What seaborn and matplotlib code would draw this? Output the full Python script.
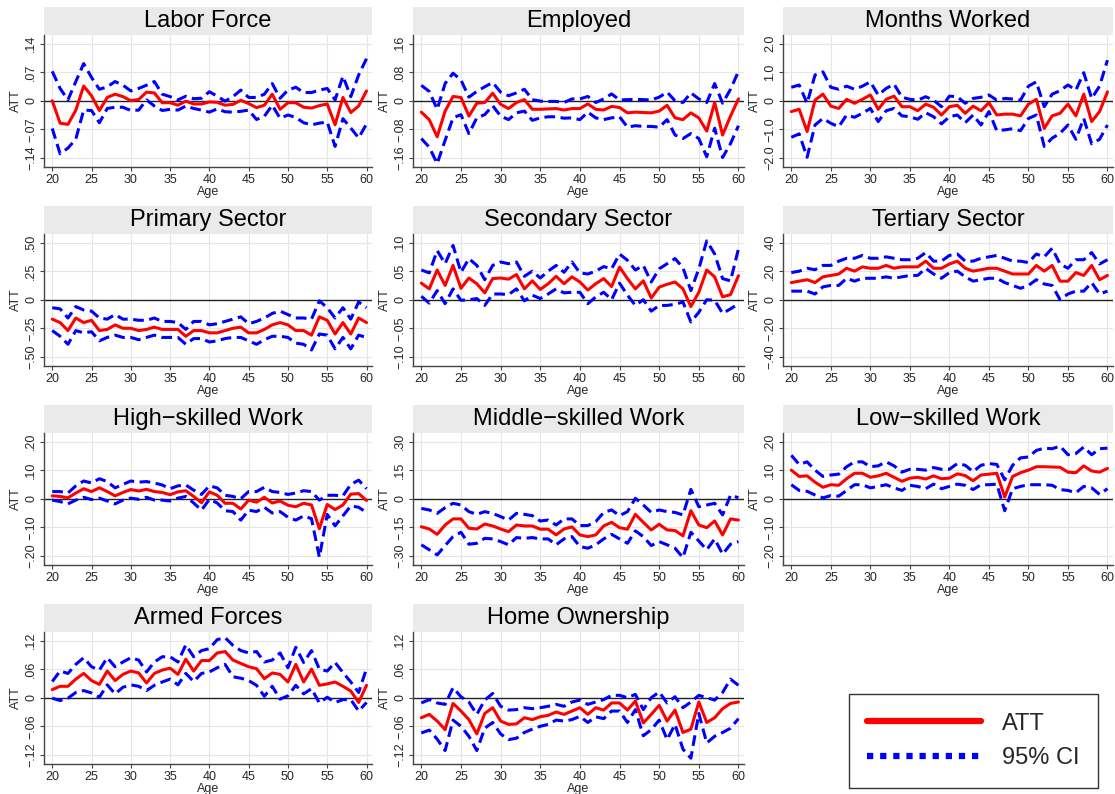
import numpy as np
import pandas as pd
import matplotlib.pyplot as plt
import seaborn as sns
from matplotlib.patches import Rectangle
from matplotlib.lines import Line2D

sns.set_style("white")
plt.rcParams["font.family"] = ["Liberation Sans", "DejaVu Sans"]

ages = list(range(20, 61))

# Labor Force
lf_att = [0.0, -0.055, -0.058, -0.023, 0.036, 0.012, -0.024, 0.008, 0.016, 0.010, 0.0, 0.003, 0.021, 0.019,
          -0.005, -0.005, -0.011, -0.001, -0.008, -0.008, -0.003, -0.004, -0.011, -0.009, 0.001, -0.007,
          -0.017, -0.011, 0.016, -0.021, -0.005, -0.005, -0.016, -0.018, -0.012, -0.008, -0.059, 0.008,
          -0.029, -0.013, 0.024]
lf_hi = [0.072, 0.030, 0.002, 0.047, 0.091, 0.057, 0.028, 0.034, 0.047, 0.038, 0.024, 0.030, 0.038, 0.047,
         0.016, 0.010, 0.002, 0.011, 0.005, 0.006, 0.022, 0.011, -0.001, 0.010, 0.026, 0.008, 0.008, 0.016,
         0.042, 0.006, 0.026, 0.033, 0.020, 0.020, 0.026, 0.030, 0.002, 0.060, 0.010, 0.063, 0.103]
lf_lo = [-0.068, -0.130, -0.116, -0.094, -0.023, -0.024, -0.054, -0.019, -0.016, -0.016, -0.024, -0.023,
         0.002, -0.013, -0.024, -0.021, -0.023, -0.013, -0.019, -0.023, -0.028, -0.020, -0.027, -0.028,
         -0.026, -0.023, -0.046, -0.038, -0.011, -0.043, -0.035, -0.041, -0.054, -0.059, -0.055, -0.052,
         -0.112, -0.044, -0.067, -0.091, -0.057]

# Employed
em_att = [-0.032, -0.053, -0.101, -0.029, 0.012, 0.009, -0.043, -0.007, -0.005, 0.021, -0.010, -0.022,
          -0.005, 0.003, -0.024, -0.024, -0.023, -0.022, -0.026, -0.022, -0.022, -0.009, -0.024, -0.026,
          -0.016, -0.019, -0.034, -0.032, -0.033, -0.034, -0.029, -0.013, -0.048, -0.053, -0.034, -0.048,
          -0.085, -0.005, -0.096, -0.043, 0.005]
em_hi = [0.043, 0.026, -0.024, 0.048, 0.077, 0.058, 0.010, 0.026, 0.039, 0.051, 0.024, 0.014, 0.022, 0.032,
         0.003, -0.001, -0.002, -0.002, -0.005, 0.005, 0.005, 0.012, -0.005, 0.005, 0.019, 0.002, 0.003,
         0.004, 0.003, 0.002, 0.010, 0.024, 0.0, -0.005, 0.022, 0.005, -0.005, 0.048, -0.007, 0.032, 0.082]
em_lo = [-0.106, -0.130, -0.176, -0.111, -0.048, -0.039, -0.092, -0.048, -0.039, -0.014, -0.043, -0.053,
         -0.034, -0.029, -0.055, -0.048, -0.045, -0.045, -0.049, -0.048, -0.053, -0.032, -0.048, -0.053,
         -0.048, -0.045, -0.074, -0.070, -0.072, -0.072, -0.074, -0.053, -0.096, -0.106, -0.092, -0.106,
         -0.157, -0.077, -0.159, -0.120, -0.070]

# Months Worked
mw_att = [-0.38, -0.30, -1.08, 0.02, 0.23, -0.19, -0.27, 0.05, -0.09, 0.05, 0.20, -0.30, 0.05, 0.16, -0.21,
          -0.21, -0.35, -0.12, -0.23, -0.50, -0.21, -0.16, -0.44, -0.19, -0.35, -0.07, -0.50, -0.47, -0.47,
          -0.53, -0.12, 0.05, -0.97, -0.53, -0.44, -0.12, -0.53, 0.23, -0.73, -0.38, 0.31]
mw_hi = [0.47, 0.55, -0.09, 0.90, 1.01, 0.47, 0.40, 0.51, 0.40, 0.51, 0.66, 0.20, 0.43, 0.58, 0.12, 0.05,
         0.02, 0.14, 0.02, -0.21, 0.16, 0.14, -0.09, 0.08, 0.12, 0.20, 0.02, 0.08, 0.06, 0.02, 0.51, 0.66,
         -0.21, 0.23, 0.35, 0.55, 0.37, 0.98, 0.08, 0.51, 1.42]
mw_lo = [-1.28, -1.16, -1.98, -0.85, -0.62, -0.79, -0.91, -0.50, -0.58, -0.44, -0.27, -0.73, -0.35, -0.27,
         -0.53, -0.56, -0.65, -0.42, -0.56, -0.81, -0.56, -0.50, -0.77, -0.50, -0.85, -0.38, -1.05, -1.02,
         -0.98, -1.05, -0.62, -0.50, -1.60, -1.31, -1.14, -0.85, -1.35, -0.62, -1.51, -1.35, -0.85]

# Primary Sector
ps_att = [-0.17, -0.20, -0.27, -0.16, -0.20, -0.18, -0.27, -0.26, -0.22, -0.25, -0.25, -0.27, -0.26, -0.24,
          -0.26, -0.26, -0.26, -0.32, -0.27, -0.27, -0.29, -0.29, -0.27, -0.25, -0.24, -0.29, -0.29, -0.26,
          -0.22, -0.20, -0.22, -0.27, -0.27, -0.31, -0.15, -0.18, -0.30, -0.20, -0.30, -0.16, -0.20]
ps_hi = [-0.07, -0.08, -0.16, -0.06, -0.09, -0.10, -0.16, -0.17, -0.13, -0.17, -0.17, -0.18, -0.18, -0.16,
         -0.19, -0.19, -0.20, -0.26, -0.19, -0.19, -0.22, -0.21, -0.19, -0.17, -0.15, -0.21, -0.19, -0.16,
         -0.12, -0.10, -0.13, -0.16, -0.16, -0.17, -0.01, -0.07, -0.16, -0.07, -0.17, -0.02, -0.07]
ps_lo = [-0.27, -0.32, -0.39, -0.27, -0.29, -0.28, -0.36, -0.33, -0.31, -0.33, -0.33, -0.35, -0.33, -0.31,
         -0.33, -0.33, -0.33, -0.39, -0.34, -0.34, -0.37, -0.36, -0.34, -0.33, -0.33, -0.36, -0.39, -0.35,
         -0.32, -0.32, -0.33, -0.38, -0.39, -0.44, -0.30, -0.31, -0.43, -0.33, -0.43, -0.31, -0.33]

# Secondary Sector
ss_att = [0.029, 0.019, 0.052, 0.025, 0.060, 0.020, 0.038, 0.028, 0.012, 0.037, 0.038, 0.036, 0.044, 0.019,
          0.033, 0.018, 0.028, 0.041, 0.028, 0.040, 0.031, 0.017, 0.028, 0.037, 0.023, 0.057, 0.037, 0.019,
          0.033, 0.003, 0.022, 0.027, 0.031, 0.019, -0.012, 0.013, 0.052, 0.040, 0.005, 0.009, 0.042]
ss_hi = [0.052, 0.047, 0.086, 0.063, 0.095, 0.048, 0.072, 0.060, 0.035, 0.060, 0.066, 0.063, 0.066, 0.041,
         0.050, 0.038, 0.050, 0.060, 0.048, 0.066, 0.047, 0.045, 0.050, 0.058, 0.054, 0.080, 0.069, 0.052,
         0.060, 0.031, 0.054, 0.063, 0.072, 0.056, 0.016, 0.054, 0.103, 0.080, 0.037, 0.033, 0.089]
ss_lo = [0.006, -0.006, 0.016, -0.007, 0.019, -0.001, 0.0, 0.002, -0.010, 0.010, 0.010, 0.009, 0.019, -0.002,
         0.008, 0.002, 0.010, 0.019, 0.012, 0.013, 0.013, -0.007, 0.005, 0.013, 0.0, 0.029, 0.008, -0.010,
         0.0, -0.020, -0.010, -0.010, -0.008, -0.004, -0.039, -0.022, 0.0, -0.001, -0.024, -0.016, -0.007]

# Tertiary Sector
ts_att = [0.12, 0.13, 0.14, 0.12, 0.16, 0.17, 0.18, 0.22, 0.20, 0.23, 0.22, 0.22, 0.24, 0.22, 0.23, 0.23,
          0.23, 0.27, 0.22, 0.22, 0.25, 0.27, 0.22, 0.20, 0.21, 0.22, 0.22, 0.20, 0.18, 0.18, 0.18, 0.24,
          0.20, 0.24, 0.13, 0.13, 0.19, 0.17, 0.24, 0.14, 0.17]
ts_hi = [0.19, 0.20, 0.22, 0.21, 0.24, 0.24, 0.27, 0.29, 0.29, 0.31, 0.29, 0.29, 0.30, 0.29, 0.28, 0.28,
         0.29, 0.33, 0.27, 0.27, 0.31, 0.32, 0.27, 0.27, 0.29, 0.30, 0.31, 0.29, 0.27, 0.27, 0.26, 0.32,
         0.30, 0.36, 0.25, 0.22, 0.28, 0.28, 0.33, 0.25, 0.28]
ts_lo = [0.06, 0.06, 0.06, 0.04, 0.09, 0.10, 0.10, 0.15, 0.13, 0.15, 0.15, 0.15, 0.16, 0.15, 0.16, 0.17,
         0.17, 0.22, 0.18, 0.15, 0.19, 0.20, 0.16, 0.13, 0.14, 0.15, 0.15, 0.12, 0.10, 0.08, 0.10, 0.14,
         0.11, 0.10, 0.0, 0.04, 0.06, 0.06, 0.12, 0.04, 0.06]

# High-skilled Work
hs_att = [0.010, 0.008, 0.003, 0.020, 0.035, 0.025, 0.038, 0.025, 0.010, 0.022, 0.032, 0.027, 0.033, 0.025,
          0.022, 0.014, 0.024, 0.028, 0.008, -0.014, 0.024, 0.012, -0.016, -0.016, -0.036, -0.005, -0.012,
          0.005, -0.015, -0.008, -0.023, -0.028, -0.016, -0.022, -0.105, -0.020, -0.038, -0.022, 0.016,
          0.018, -0.006]
hs_hi = [0.025, 0.025, 0.020, 0.045, 0.062, 0.055, 0.070, 0.060, 0.038, 0.050, 0.062, 0.058, 0.060, 0.055,
         0.048, 0.035, 0.045, 0.048, 0.030, 0.015, 0.045, 0.038, 0.012, 0.008, 0.0, 0.025, 0.025, 0.040,
         0.025, 0.022, 0.015, 0.020, 0.028, 0.025, -0.005, 0.012, 0.012, 0.010, 0.050, 0.065, 0.035]
hs_lo = [-0.005, -0.010, -0.018, -0.005, 0.005, -0.003, 0.002, -0.008, -0.018, -0.005, 0.002, -0.002, 0.005,
         -0.005, -0.005, -0.008, 0.002, 0.008, -0.015, -0.040, -0.002, -0.015, -0.042, -0.045, -0.075,
         -0.040, -0.045, -0.030, -0.050, -0.045, -0.065, -0.075, -0.060, -0.070, -0.205, -0.055, -0.095,
         -0.060, -0.025, -0.030, -0.048]

# Middle-skilled Work
ms_att = [-0.147, -0.159, -0.187, -0.138, -0.106, -0.106, -0.155, -0.159, -0.133, -0.143, -0.159, -0.173,
          -0.138, -0.143, -0.143, -0.160, -0.160, -0.190, -0.159, -0.148, -0.190, -0.199, -0.190, -0.143,
          -0.124, -0.152, -0.160, -0.082, -0.124, -0.164, -0.134, -0.164, -0.167, -0.195, -0.063, -0.138,
          -0.152, -0.117, -0.190, -0.106, -0.112]
ms_hi = [-0.051, -0.059, -0.077, -0.047, -0.024, -0.033, -0.068, -0.082, -0.068, -0.077, -0.094, -0.112,
         -0.077, -0.082, -0.089, -0.117, -0.112, -0.138, -0.106, -0.106, -0.141, -0.141, -0.120, -0.072,
         -0.059, -0.089, -0.068, 0.002, -0.033, -0.072, -0.059, -0.068, -0.072, -0.085, 0.049, -0.042,
         -0.033, -0.024, -0.085, 0.019, 0.005]
ms_lo = [-0.242, -0.268, -0.295, -0.246, -0.199, -0.176, -0.239, -0.234, -0.208, -0.211, -0.225, -0.242,
         -0.204, -0.208, -0.204, -0.211, -0.211, -0.242, -0.211, -0.199, -0.251, -0.260, -0.242, -0.211,
         -0.187, -0.211, -0.234, -0.169, -0.199, -0.246, -0.225, -0.242, -0.260, -0.309, -0.176, -0.222,
         -0.268, -0.211, -0.291, -0.239, -0.225]

# Low-skilled Work
ls_att = [0.100, 0.078, 0.080, 0.058, 0.040, 0.049, 0.047, 0.070, 0.089, 0.089, 0.075, 0.080, 0.089, 0.075,
          0.061, 0.072, 0.075, 0.069, 0.080, 0.070, 0.072, 0.087, 0.081, 0.063, 0.083, 0.086, 0.089, 0.006,
          0.078, 0.091, 0.100, 0.112, 0.112, 0.111, 0.110, 0.093, 0.091, 0.115, 0.097, 0.093, 0.106]
ls_hi = [0.152, 0.120, 0.129, 0.100, 0.078, 0.083, 0.086, 0.112, 0.129, 0.129, 0.112, 0.115, 0.129, 0.115,
         0.093, 0.103, 0.103, 0.100, 0.109, 0.103, 0.103, 0.123, 0.117, 0.095, 0.117, 0.123, 0.120, 0.066,
         0.117, 0.143, 0.146, 0.169, 0.177, 0.175, 0.184, 0.154, 0.158, 0.181, 0.154, 0.175, 0.177]
ls_lo = [0.049, 0.029, 0.026, 0.013, 0.003, 0.011, 0.009, 0.029, 0.049, 0.049, 0.038, 0.043, 0.049, 0.038,
         0.029, 0.047, 0.043, 0.035, 0.051, 0.035, 0.043, 0.051, 0.047, 0.032, 0.049, 0.049, 0.051, -0.042,
         0.035, 0.043, 0.049, 0.049, 0.049, 0.047, 0.032, 0.029, 0.021, 0.043, 0.038, 0.015, 0.035]

# Armed Forces
af_att = [0.017, 0.024, 0.024, 0.039, 0.051, 0.036, 0.028, 0.056, 0.036, 0.049, 0.056, 0.052, 0.031, 0.051,
          0.058, 0.062, 0.049, 0.081, 0.056, 0.078, 0.078, 0.094, 0.097, 0.079, 0.072, 0.065, 0.061, 0.040,
          0.052, 0.049, 0.033, 0.070, 0.033, 0.060, 0.026, 0.029, 0.033, 0.024, 0.014, -0.010, 0.026]
af_hi = [0.034, 0.056, 0.051, 0.070, 0.084, 0.065, 0.058, 0.084, 0.065, 0.075, 0.084, 0.079, 0.054, 0.075,
         0.086, 0.086, 0.075, 0.111, 0.086, 0.099, 0.103, 0.122, 0.126, 0.110, 0.099, 0.094, 0.097, 0.075,
         0.079, 0.094, 0.063, 0.106, 0.074, 0.099, 0.060, 0.056, 0.074, 0.053, 0.033, 0.011, 0.061]
af_lo = [-0.001, -0.006, -0.001, 0.011, 0.015, 0.010, 0.001, 0.027, 0.008, 0.022, 0.027, 0.024, 0.015, 0.026,
         0.033, 0.039, 0.027, 0.051, 0.034, 0.051, 0.054, 0.063, 0.070, 0.044, 0.041, 0.036, 0.026, 0.003,
         0.024, -0.003, 0.004, 0.026, 0.008, 0.019, -0.011, 0.001, -0.010, -0.004, -0.004, -0.028, -0.010]

# Home Ownership
ho_att = [-0.042, -0.035, -0.049, -0.067, -0.012, -0.028, -0.046, -0.076, -0.033, -0.021, -0.049, -0.056,
          -0.055, -0.042, -0.046, -0.040, -0.037, -0.030, -0.035, -0.028, -0.021, -0.035, -0.021, -0.026,
          -0.011, -0.011, -0.026, -0.007, -0.053, -0.035, -0.016, -0.049, -0.026, -0.073, -0.066, -0.009,
          -0.052, -0.042, -0.023, -0.012, -0.009]
ho_hi = [-0.011, -0.004, -0.011, -0.014, 0.021, 0.002, -0.009, -0.035, -0.005, 0.009, -0.018, -0.026, -0.025,
         -0.021, -0.023, -0.021, -0.018, -0.014, -0.018, -0.009, -0.005, -0.014, -0.009, -0.004, 0.005, 0.005,
         0.0, 0.007, -0.025, 0.0, 0.012, -0.011, 0.002, -0.021, -0.009, 0.005, 0.0, -0.005, 0.011, 0.039, 0.026]
ho_lo = [-0.074, -0.068, -0.087, -0.111, -0.047, -0.060, -0.081, -0.111, -0.064, -0.052, -0.076, -0.088,
         -0.085, -0.073, -0.066, -0.060, -0.056, -0.047, -0.049, -0.046, -0.039, -0.052, -0.040, -0.044,
         -0.028, -0.028, -0.052, -0.025, -0.080, -0.067, -0.047, -0.088, -0.056, -0.108, -0.127, -0.033,
         -0.095, -0.081, -0.073, -0.064, -0.044]

titles = ["Labor Force", "Employed", "Months Worked", "Primary Sector", "Secondary Sector",
          "Tertiary Sector", "High\u2212skilled Work", "Middle\u2212skilled Work", "Low\u2212skilled Work",
          "Armed Forces", "Home Ownership"]
tick_steps = [0.07, 0.08, 1.0, 0.25, 0.05, 0.20, 0.10, 0.15, 0.10, 0.06, 0.06]
tick_labels = [
    [".14", ".07", "0", "\u2212.07", "\u2212.14"],
    [".16", ".08", "0", "\u2212.08", "\u2212.16"],
    ["2.0", "1.0", "0", "\u22121.0", "\u22122.0"],
    [".50", ".25", "0", "\u2212.25", "\u2212.50"],
    [".10", ".05", "0", "\u2212.05", "\u2212.10"],
    [".40", ".20", "0", "\u2212.20", "\u2212.40"],
    [".20", ".10", "0", "\u2212.10", "\u2212.20"],
    [".30", ".15", "0", "\u2212.15", "\u2212.30"],
    [".20", ".10", "0", "\u2212.10", "\u2212.20"],
    [".12", ".06", "0", "\u2212.06", "\u2212.12"],
    [".12", ".06", "0", "\u2212.06", "\u2212.12"],
]
series = [(lf_att, lf_lo, lf_hi), (em_att, em_lo, em_hi), (mw_att, mw_lo, mw_hi),
          (ps_att, ps_lo, ps_hi), (ss_att, ss_lo, ss_hi), (ts_att, ts_lo, ts_hi),
          (hs_att, hs_lo, hs_hi), (ms_att, ms_lo, ms_hi), (ls_att, ls_lo, ls_hi),
          (af_att, af_lo, af_hi), (ho_att, ho_lo, ho_hi)]

W, H = 1115, 794
fig = plt.figure(figsize=(W / 100, H / 100), dpi=100)

col_x = [(44, 328), (413, 331), (783, 330)]
row_top = [35, 234, 433, 632]
ax_h = 132
strip_h = 28
dash = (0, (3.5, 1.8))

for i, title in enumerate(titles):
    r, c = divmod(i, 3)
    x0, w = col_x[c]
    ax = fig.add_axes([x0 / W, 1 - (row_top[r] + ax_h) / H, w / W, ax_h / H])
    att, lo, hi = series[i]
    df = pd.DataFrame({"age": ages, "att": att, "lo": lo, "hi": hi})
    s = tick_steps[i]

    ax.grid(True, color="#e6e6e6", lw=0.8)
    ax.axhline(0, color="#222222", lw=1.0, zorder=1)
    sns.lineplot(data=df, x="age", y="hi", ax=ax, color="blue", lw=2.2, linestyle=dash,
                 errorbar=None, zorder=3)
    sns.lineplot(data=df, x="age", y="lo", ax=ax, color="blue", lw=2.2, linestyle=dash,
                 errorbar=None, zorder=3)
    sns.lineplot(data=df, x="age", y="att", ax=ax, color="red", lw=2.2, errorbar=None, zorder=4)

    ax.set_xlim(18.95, 60.7)
    ax.set_ylim(-2.32 * s, 2.3 * s)
    ax.set_xticks(range(20, 61, 5))
    ax.set_yticks([2 * s, s, 0, -s, -2 * s])
    ax.set_yticklabels(tick_labels[i], rotation=90, va="center")
    ax.tick_params(axis="both", labelsize=9, length=3, width=0.8, color="#444444",
                   direction="out", pad=2, left=True, bottom=True)
    for side in ["top", "right"]:
        ax.spines[side].set_visible(False)
    for side in ["left", "bottom"]:
        ax.spines[side].set_color("#444444")
        ax.spines[side].set_linewidth(1.0)
    ax.set_xlabel("Age", fontsize=9, labelpad=0)
    ax.set_ylabel("ATT", fontsize=9, labelpad=2)

    sh = strip_h / ax_h
    ax.add_patch(Rectangle((0, 1), 1, sh, transform=ax.transAxes, clip_on=False,
                           facecolor="#eaeaea", edgecolor="none"))
    ax.text(0.5, 1 + sh / 2, title, transform=ax.transAxes, ha="center", va="center",
            fontsize=17, color="black")

handles = [Line2D([0], [0], color="red", lw=4.5),
           Line2D([0], [0], color="blue", lw=4.5, linestyle=(0, (1, 1.1)))]
leg = fig.legend(handles, ["ATT", "95% CI"], loc="center",
                 bbox_to_anchor=((843 + 1104) / 2 / W, 1 - (692 + 790) / 2 / H),
                 fontsize=17, handlelength=4.8, handletextpad=0.9, labelspacing=0.55,
                 borderpad=0.8, fancybox=False, frameon=True)
leg.get_frame().set_edgecolor("black")
leg.get_frame().set_linewidth(1.0)

fig.savefig("out.png", dpi=100)
